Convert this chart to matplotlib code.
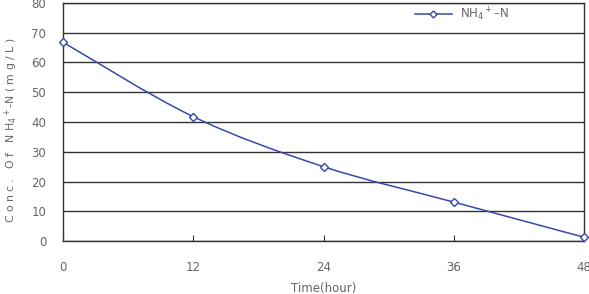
import numpy as np
import matplotlib.pyplot as plt
from matplotlib.path import Path
from matplotlib.patches import PathPatch

# Data
hours = [0, 12, 24, 36, 48]
nh4_conc = [66.8, 41.8, 25.0, 13.1, 1.3]
yticks = [0, 10, 20, 30, 40, 50, 60, 70, 80]
xticks = [0, 12, 24, 36, 48]

line_col = '#3848a8'
txt_col = '#666666'

fig = plt.figure(figsize=(5.89, 2.94), dpi=100)
ax = fig.add_axes([0.107, 0.180, 0.8845, 0.810])

# smooth curve (Excel-style) via Catmull-Rom -> cubic Bezier segments
x = np.array(hours, float)
y = np.array(nh4_conc, float)
verts = [(x[0], y[0])]
codes = [Path.MOVETO]
for i in range(len(x) - 1):
    p0 = (x[max(i - 1, 0)], y[max(i - 1, 0)])
    p1 = (x[i], y[i])
    p2 = (x[i + 1], y[i + 1])
    p3 = (x[min(i + 2, len(x) - 1)], y[min(i + 2, len(x) - 1)])
    c1 = (p1[0] + (p2[0] - p0[0]) / 6, p1[1] + (p2[1] - p0[1]) / 6)
    c2 = (p2[0] - (p3[0] - p1[0]) / 6, p2[1] - (p3[1] - p1[1]) / 6)
    verts += [c1, c2, p2]
    codes += [Path.CURVE4] * 3
ax.add_patch(PathPatch(Path(verts, codes), fill=False, edgecolor=line_col, lw=1.1, zorder=3, clip_on=False))
ax.plot(hours, nh4_conc, ls='none', marker='D', ms=4.5, mfc='white', mec=line_col, mew=1.0,
        zorder=4, clip_on=False)

ax.set_xlim(0, 48)
ax.set_ylim(0, 80)
ax.set_xticks(xticks)
ax.set_yticks(yticks)
ax.yaxis.grid(True, color='#333333', lw=1.0)
ax.set_axisbelow(True)
ax.tick_params(axis='x', direction='in', length=4, color='#333333', pad=14, labelsize=8.5, labelcolor=txt_col)
ax.tick_params(axis='y', length=0, pad=12, labelsize=8.5, labelcolor=txt_col)
for s in ax.spines.values():
    s.set_color('#333333')
    s.set_linewidth(1.0)

ax.set_xlabel('Time(hour)', fontsize=8.5, color=txt_col, labelpad=6)
ax.set_ylabel(r'C o n c .   O f   N H$_4$$^+$-N ( m g / L )', fontsize=7.8, color=txt_col)
ax.yaxis.set_label_coords(-0.083, 0.466)

# legend
lx, ly = 34.1, 76.3
ax.plot([lx - 1.7, lx + 1.7], [ly, ly], color=line_col, lw=1.1, clip_on=False)
ax.plot([lx], [ly], ls='none', marker='D', ms=3.5, mfc='white', mec=line_col, mew=1.0)
ax.text(lx + 2.5, ly, r'NH$_4$$^+$–N', fontsize=8.5, color=txt_col, va='center', ha='left')

fig.savefig('out.png', dpi=100)
